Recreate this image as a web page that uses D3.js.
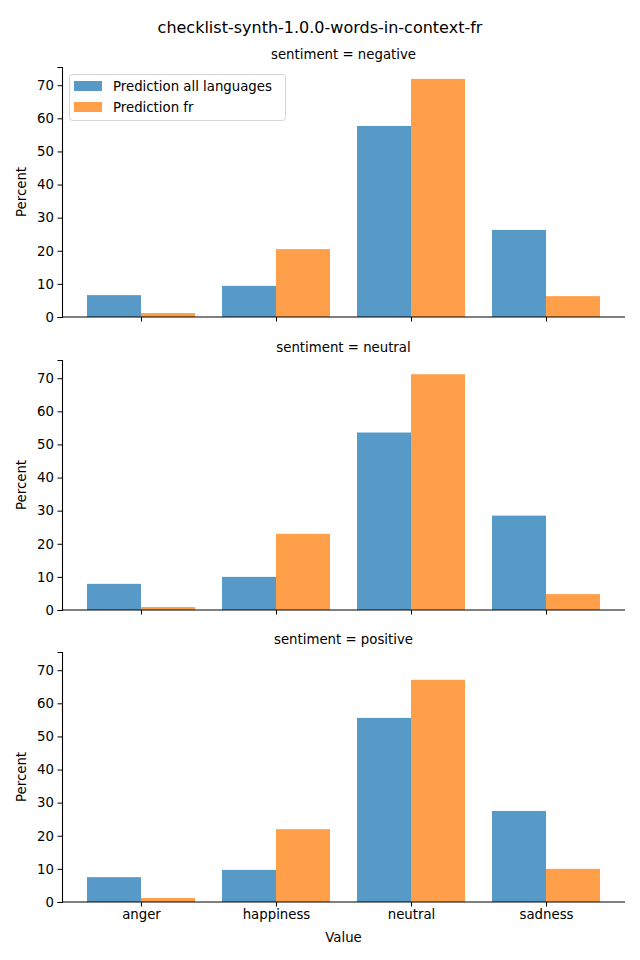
<!DOCTYPE html>
<html>
<head>
<meta charset="utf-8">
<script src="https://cdn.jsdelivr.net/npm/d3@7"></script>
<style>
body { margin: 0; background: #fff; }
text { font-family: "DejaVu Sans", sans-serif; fill: #000; }
</style>
</head>
<body>
<svg id="chart" width="640" height="960"></svg>
<script>
const title = "checklist-synth-1.0.0-words-in-context-fr";
const categories = ["anger", "happiness", "neutral", "sadness"];
const panels = ["negative", "neutral", "positive"];
const seriesNames = ["Prediction all languages", "Prediction fr"];
const allLanguages = [
  [6.6, 9.4, 57.7, 26.3],
  [7.9, 10.0, 53.6, 28.5],
  [7.5, 9.7, 55.6, 27.5]
];
const predFr = [
  [1.2, 20.5, 71.9, 6.3],
  [0.9, 23.0, 71.2, 4.8],
  [1.2, 22.0, 67.1, 10.0]
];
const yTicks = [0, 10, 20, 30, 40, 50, 60, 70];
const colors = ["#5799c7", "#ff9f4a"];

const svg = d3.select("#chart");
const left = 62, right = 625;
const panelTops = [67, 360, 652];
const panelH = 250;

svg.append("text").attr("x", 320).attr("y", 33).attr("text-anchor", "middle")
  .style("font-size", "16px").text(title);

const x = d3.scalePoint().domain(categories).range([left, right]).padding(0.585);
const step = x.step();
const xs = d3.scaleBand().domain([0, 1]).range([-0.4 * step, 0.4 * step]);

panels.forEach((p, pi) => {
  const top = panelTops[pi];
  const y = d3.scaleLinear().domain([0, 75.5]).range([top + panelH, top]);
  const g = svg.append("g");
  const data = [allLanguages[pi], predFr[pi]];
  data.forEach((vals, si) => {
    g.selectAll(null).data(vals).enter().append("rect")
      .attr("x", (d, i) => x(categories[i]) + xs(si))
      .attr("width", xs.bandwidth())
      .attr("y", d => y(d))
      .attr("height", d => y(0) - y(d))
      .attr("fill", colors[si]);
  });
  // y axis
  const ya = g.append("g").attr("transform", `translate(${left},0)`)
    .call(d3.axisLeft(y).tickValues(yTicks).tickSize(4.5).tickPadding(3.5));
  ya.select(".domain").attr("stroke-width", 1.1);
  ya.selectAll("text").style("font-size", "13.3px").attr("fill", "#000");
  // x axis
  const xa = g.append("g").attr("transform", `translate(0,${top + panelH})`)
    .call(d3.axisBottom(x).tickSize(4.5).tickPadding(3.5));
  xa.select(".domain").attr("d", `M${left},0H${right}`).attr("stroke-width", 1.1);
  xa.selectAll("text").style("font-size", "13.3px").attr("fill", "#000");
  if (pi < panels.length - 1) xa.selectAll("text").remove();
  // titles
  svg.append("text").attr("x", (left + right) / 2).attr("y", top - 8)
    .attr("text-anchor", "middle").style("font-size", "13.3px")
    .text("sentiment = " + p);
  svg.append("text").attr("transform", `translate(26,${top + panelH / 2}) rotate(-90)`)
    .attr("text-anchor", "middle").style("font-size", "13.3px").text("Percent");
  if (pi === 0) {
    const lg = svg.append("g");
    lg.append("rect").attr("x", 69.5).attr("y", 74.5).attr("width", 216).attr("height", 46)
      .attr("rx", 3).attr("fill", "#fff").attr("fill-opacity", 0.8)
      .attr("stroke", "#d6d6d6").attr("stroke-width", 1);
    seriesNames.forEach((s, si) => {
      lg.append("rect").attr("x", 74).attr("y", 81 + si * 21).attr("width", 28).attr("height", 10)
        .attr("fill", colors[si]);
      lg.append("text").attr("x", 113).attr("y", 91 + si * 21)
        .style("font-size", "13.3px").text(s);
    });
  }
});

svg.append("text").attr("x", (left + right) / 2).attr("y", 942)
  .attr("text-anchor", "middle").style("font-size", "13.3px").text("Value");
</script>
</body>
</html>
